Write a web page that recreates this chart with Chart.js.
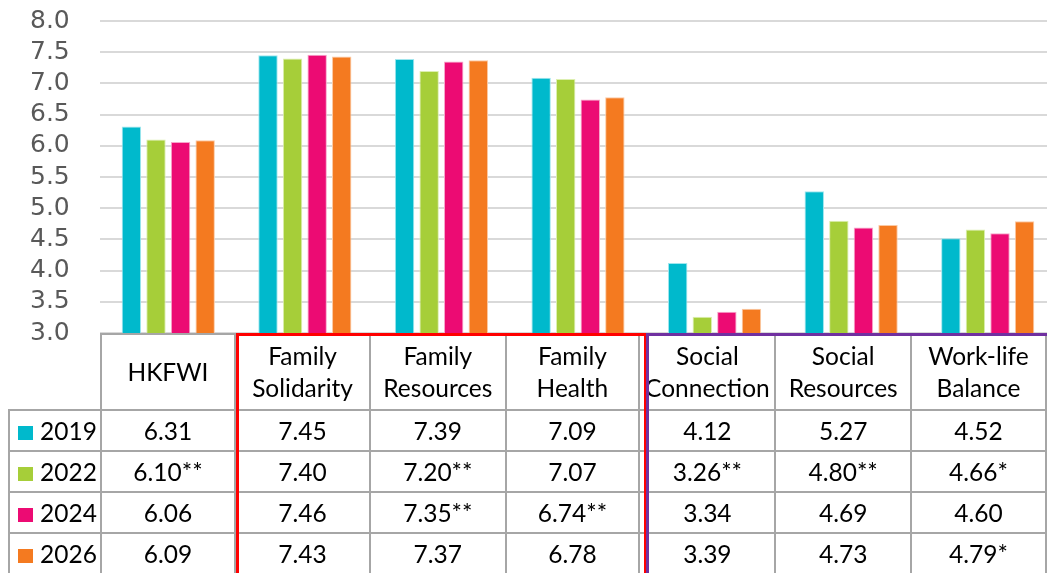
<!DOCTYPE html>
<html>
<head>
<meta charset="utf-8">
<script src="https://cdn.jsdelivr.net/npm/chart.js@4.4.1/dist/chart.umd.min.js"></script>
<style>
  html, body { margin: 0; padding: 0; background: #fff; }
  #wrap { position: relative; width: 1047px; height: 573px; overflow: hidden; }
  #chart { position: absolute; left: 0; top: 0; }
  #dataTable {
    position: absolute;
    border-collapse: collapse;
    table-layout: fixed;
    font-family: Lato, 'Noto Sans', sans-serif;
    font-size: 24.5px;
    color: #000;
  }
  #dataTable td { border: 2px solid #a6a6a6; text-align: center; padding: 0; line-height: 32px; white-space: nowrap; }
  #dataTable tr.head td { height: 74px; }
  #dataTable tr.row td { height: 39px; }
  #dataTable td.blank { border-top: none; border-left: none; }
  #dataTable td.legend { text-align: left; padding-left: 8px; }
  .swatch { display: inline-block; width: 15px; height: 14px; margin-right: 7px; vertical-align: 0px; }
  .box { position: absolute; border: 3.5px solid; border-bottom: none; box-sizing: border-box; pointer-events: none; }
</style>
</head>
<body>
<div id="wrap">
  <canvas id="chart" width="1056" height="573"></canvas>
  <table id="dataTable"></table>
  <div id="redBox" class="box" style="border-color:#ff0000"></div>
  <div id="purpleBox" class="box" style="border-color:#7030a0"></div>
</div>
<script>
// ---- data ----
const categories = [
  ['HKFWI'],
  ['Family', 'Solidarity'],
  ['Family', 'Resources'],
  ['Family', 'Health'],
  ['Social', 'Connection'],
  ['Social', 'Resources'],
  ['Work-life', 'Balance']
];
const years = ['2019', '2022', '2024', '2026'];
const v2019 = [6.31, 7.45, 7.39, 7.09, 4.12, 5.27, 4.52];
const v2022 = [6.10, 7.40, 7.20, 7.07, 3.26, 4.80, 4.66];
const v2024 = [6.06, 7.46, 7.35, 6.74, 3.34, 4.69, 4.60];
const v2026 = [6.09, 7.43, 7.37, 6.78, 3.39, 4.73, 4.79];
// significance markers shown in the table
const sig2019 = ['', '', '', '', '', '', ''];
const sig2022 = ['**', '', '**', '', '**', '**', '*'];
const sig2024 = ['', '', '**', '**', '', '', ''];
const sig2026 = ['', '', '', '', '', '', '*'];
const yTicks = [3.0, 3.5, 4.0, 4.5, 5.0, 5.5, 6.0, 6.5, 7.0, 7.5, 8.0];

const colors = ['#00b9cc', '#a6ce39', '#ec0b73', '#f47a20'];
const edgeColors = ['#9fe6ee', '#dcefb0', '#f7a6ca', '#fbc9a3'];
const seriesValues = [v2019, v2022, v2024, v2026];
const seriesSig = [sig2019, sig2022, sig2024, sig2026];

const ctx = document.getElementById('chart').getContext('2d');
const chart = new Chart(ctx, {
  type: 'bar',
  data: {
    labels: categories.map(c => c.join(' ')),
    datasets: years.map((y, i) => ({
      label: y,
      data: seriesValues[i],
      backgroundColor: colors[i],
      borderColor: edgeColors[i],
      borderWidth: 1,
      barPercentage: 0.79,
      categoryPercentage: 0.72
    }))
  },
  options: {
    responsive: false,
    animation: false,
    layout: { padding: { top: 21, right: 0, bottom: 240, left: 30 } },
    plugins: { legend: { display: false }, tooltip: { enabled: false } },
    scales: {
      x: { display: false },
      y: {
        min: 3, max: 8,
        afterFit: s => { s.width = 70; },
        afterBuildTicks: s => { s.ticks = yTicks.map(v => ({ value: v })); },
        border: { display: false },
        grid: { color: '#d9d9d9', lineWidth: 2, drawTicks: false },
        ticks: {
          autoSkip: false,
          padding: 0,
          crossAlign: 'far',
          color: '#595959',
          font: { family: 'DejaVu Sans', size: 25 },
          callback: v => Number(v).toFixed(1)
        }
      }
    }
  }
});

// ---- data table under the chart, aligned to the x scale ----
const area = chart.chartArea;
const colW = (area.right - area.left) / categories.length;
const legendLeft = 8;
const table = document.getElementById('dataTable');
table.style.left = legendLeft + 'px';
table.style.top = area.bottom + 'px';

let html = '<colgroup><col style="width:' + (area.left - legendLeft) + 'px">';
categories.forEach(() => { html += '<col style="width:' + colW + 'px">'; });
html += '</colgroup><tr class="head"><td class="blank"></td>';
categories.forEach(c => { html += '<td>' + c.join('<br>') + '</td>'; });
html += '</tr>';
years.forEach((y, i) => {
  html += '<tr class="row"><td class="legend"><span class="swatch" style="background:' + colors[i] + '"></span>' + y + '</td>';
  seriesValues[i].forEach((v, j) => { html += '<td>' + v.toFixed(2) + seriesSig[i][j] + '</td>'; });
  html += '</tr>';
});
table.innerHTML = html;

// red frame around the family domains, purple around the social ones
const red = document.getElementById('redBox');
red.style.left = (area.left + colW - 1) + 'px';
red.style.top = area.bottom + 'px';
red.style.width = (colW * 3 + 2) + 'px';
red.style.height = '260px';
const purple = document.getElementById('purpleBox');
purple.style.left = (area.left + colW * 4 - 0.5) + 'px';
purple.style.top = area.bottom + 'px';
purple.style.width = (colW * 3 + 4) + 'px';
purple.style.height = '260px';
</script>
</body>
</html>
